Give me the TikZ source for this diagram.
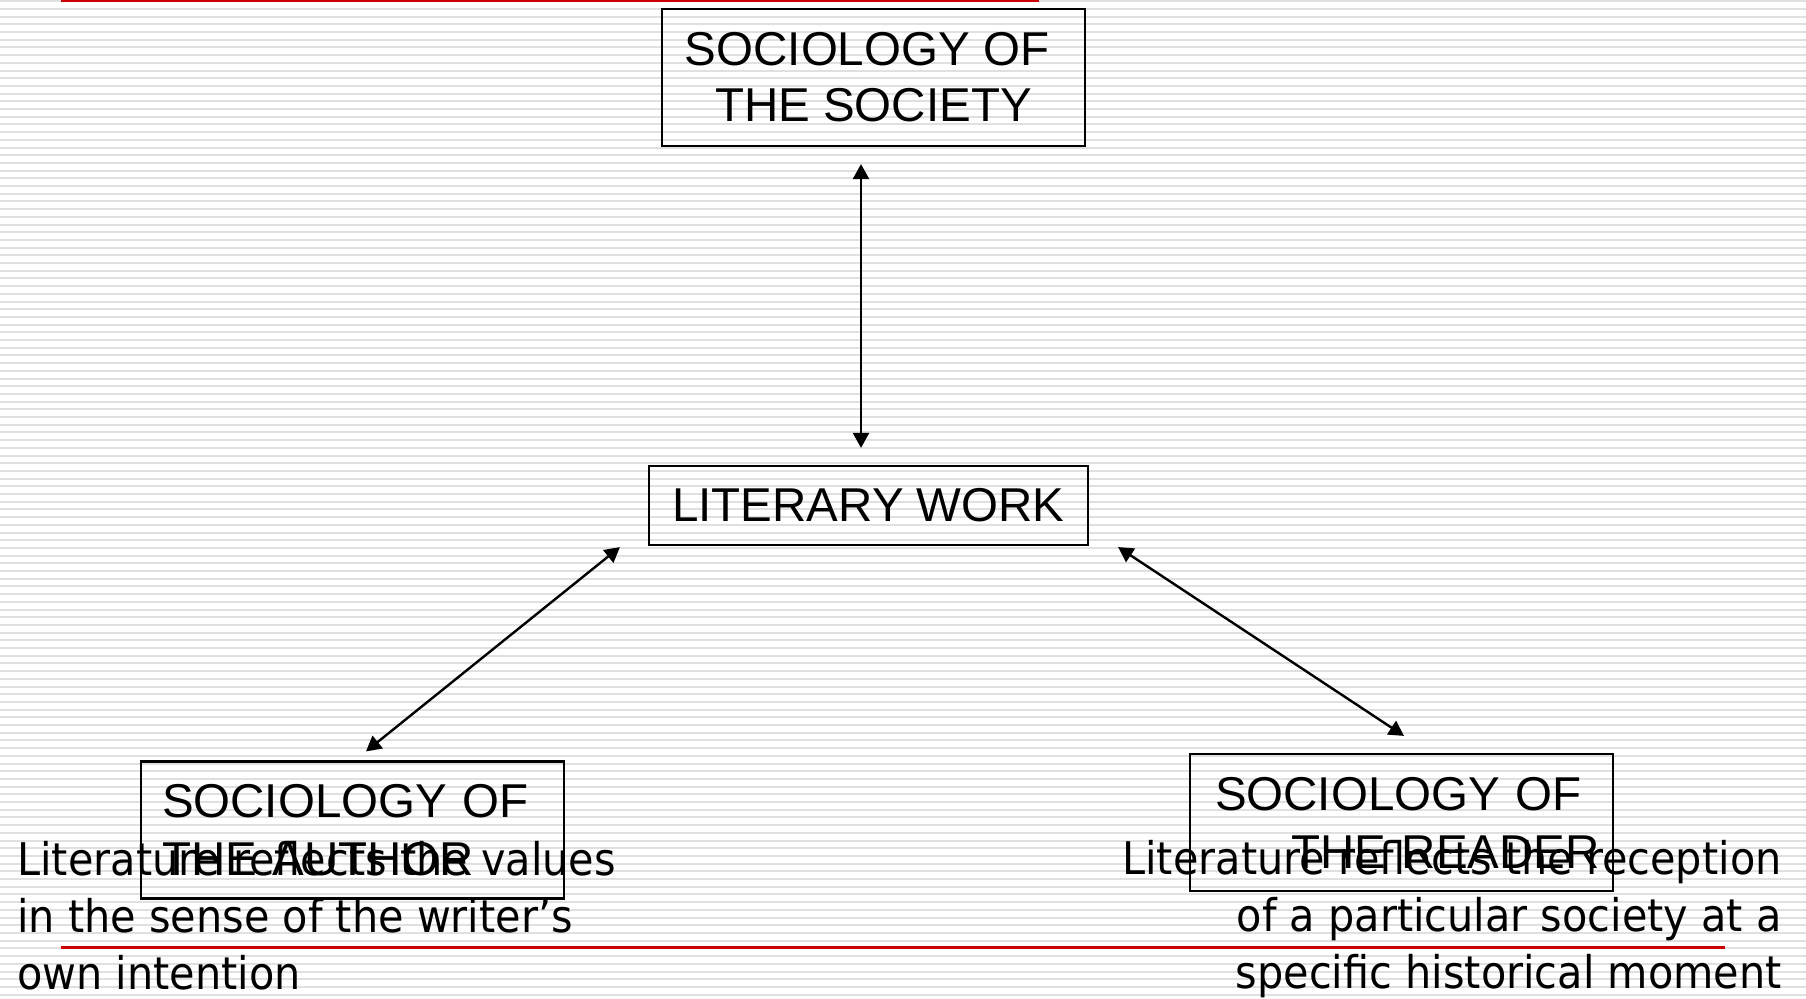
\documentclass[tikz,border=0pt]{standalone}
\usepackage{fontspec}
\setmainfont{Liberation Sans}
\newfontfamily\bodyfont[FakeStretch=0.92]{DejaVu Sans}
\usetikzlibrary{arrows.meta}
\definecolor{stripegray}{RGB}{224,224,224}
\definecolor{barred}{RGB}{204,0,0}
\begin{document}
\begin{tikzpicture}[x=0.5pt,y=-0.5pt,
  box/.style={draw=black, line width=1.1pt, inner sep=0pt, minimum width=211.5pt, minimum height=68.5pt},
  boxfont/.style={font=\fontsize{23.75}{29}\selectfont},
  arr/.style={line width=1.2pt, {Triangle[length=7.5pt,width=8pt]}-{Triangle[length=7.5pt,width=8pt]}},
  redbar/.style={draw=barred, line width=1.5pt},
  stripe/.style={draw=stripegray, line width=1pt},
  body/.style={font=\bodyfont\fontsize{22.5}{28.5}\selectfont, inner sep=0pt}]
\useasboundingbox (0,0) rectangle (1806,999);
\fill[white] (0,0) rectangle (1806,999);
\foreach \i in {0,...,129} \draw[stripe] (0,1.3+\i*7.7) -- (1806,1.3+\i*7.7);
% red bars
\draw[redbar] (61,0.9) -- (1039,0.9);
\draw[redbar] (61,947) -- (1725,947);
% boxes
\node[box, font=\fontsize{23.75}{28}\selectfont, align=center] (society) at (873.5,77.5) {SOCIOLOGY OF\hspace*{6.5pt}\\THE SOCIETY};
\node[box, boxfont, minimum width=219.5pt, minimum height=39.5pt] (lit) at (868.5,505.5) {LITERARY WORK};
\node[box, boxfont, text width=190.5pt, inner xsep=10.5pt, align=left] (author) at (352.5,830) {SOCIOLOGY OF\\THE~AUTHOR};
\node[box, boxfont, text width=186.5pt, inner xsep=12.5pt, align=left] (reader) at (1401.5,822.5) {SOCIOLOGY OF\\\hspace*{38pt}THE~READER};
% connectors
\draw[arr] ([shift={(-12.5,17)}]society.south) -- ([shift={(-7.5,-17)}]lit.north);
\draw[arr] ([shift={(-28,1)}]lit.south west) -- ([shift={(13.5,-9)}]author.north);
\draw[arr] ([shift={(29,1)}]lit.south east) -- ([shift={(2.5,-17)}]reader.north);
% body texts (base anchor = baseline of last line)
\node[body, anchor=base west, align=left] (lefttext) at (17,989) {Literature reflects the values\\in the sense of the writer’s\\own intention};
\node[body, anchor=base east, align=right] (righttext) at (1782,988) {Literature reflects the reception\\of a particular society at a\\specific historical moment};
\end{tikzpicture}
\end{document}
